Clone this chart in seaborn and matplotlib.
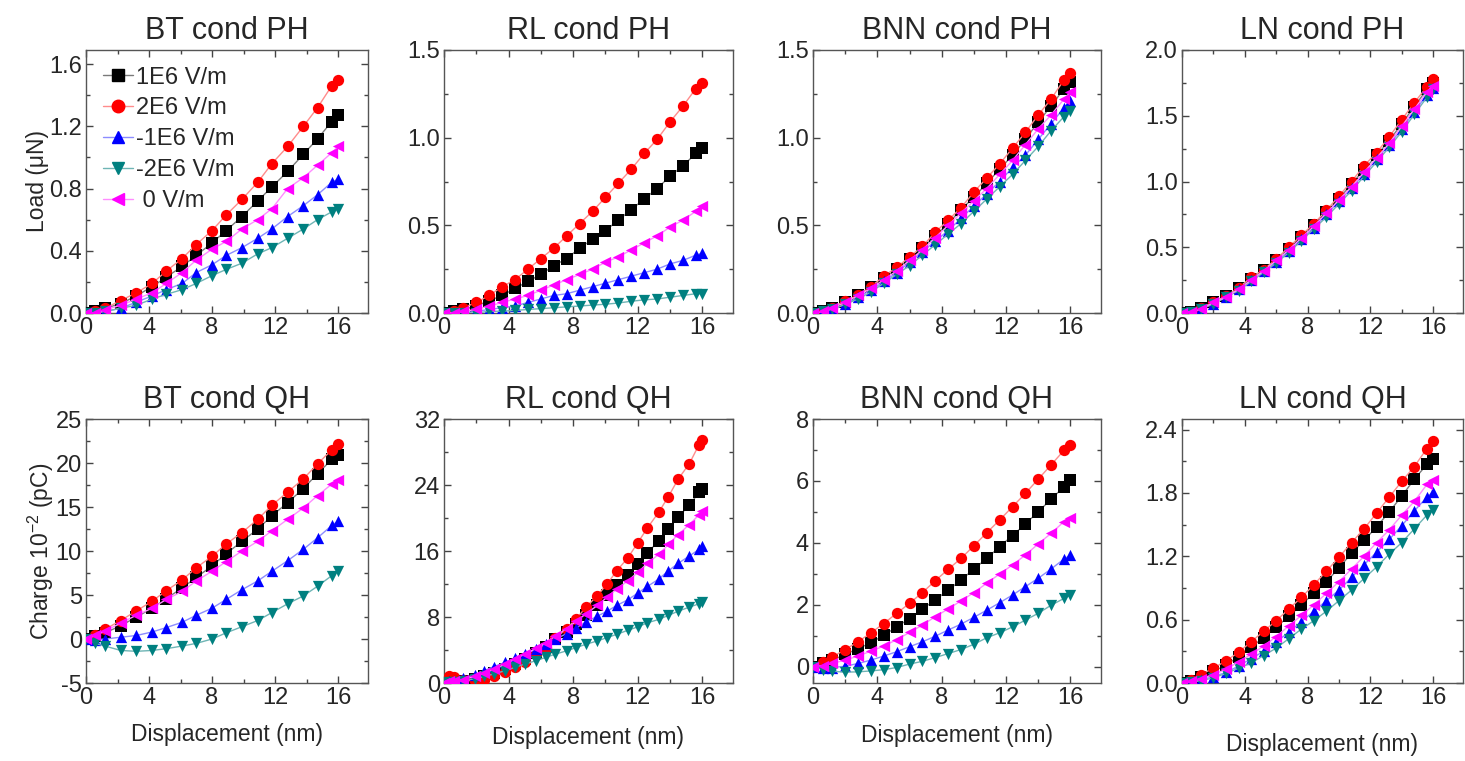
import numpy as np
import pandas as pd
import seaborn as sns
import matplotlib.pyplot as plt
from matplotlib.lines import Line2D
from matplotlib.ticker import MultipleLocator, FormatStrFormatter

# x grids (nm)
x_bt = [0, 0.6, 1.2, 2.2, 3.2, 4.2, 5.1, 6.1, 7.0, 8.0, 8.9, 9.9, 10.9, 11.8, 12.8, 13.8, 14.7, 15.6, 16.0]
x_std = [0, 0.6, 1.2, 2.0, 2.8, 3.6, 4.4, 5.2, 6.0, 6.8, 7.6, 8.4, 9.2, 10.0, 10.8, 11.6, 12.4, 13.2, 14.0,
         14.8, 15.6, 16.0]
x_rlq = [0, 0.3, 0.6, 1.2, 1.9, 2.5, 3.1, 3.8, 4.4, 5.0, 5.7, 6.3, 6.9, 7.6, 8.2, 8.8, 9.5, 10.1, 10.7, 11.4,
         12.0, 12.6, 13.3, 13.9, 14.5, 15.2, 15.8, 16.0]

series_labels = ["1E6 V/m", "2E6 V/m", "-1E6 V/m", "-2E6 V/m", " 0 V/m"]

# BT cond PH (load, uN)
bt_ph_p1 = [0, 0.01, 0.03, 0.06, 0.11, 0.17, 0.23, 0.30, 0.37, 0.45, 0.53, 0.62, 0.72, 0.81, 0.91, 1.02, 1.12, 1.23, 1.27]
bt_ph_p2 = [0, 0.01, 0.03, 0.08, 0.13, 0.19, 0.27, 0.35, 0.44, 0.53, 0.63, 0.73, 0.84, 0.96, 1.07, 1.20, 1.32, 1.46, 1.50]
bt_ph_m1 = [0, 0.00, 0.01, 0.03, 0.07, 0.11, 0.15, 0.19, 0.26, 0.31, 0.37, 0.42, 0.48, 0.54, 0.62, 0.69, 0.76, 0.84, 0.86]
bt_ph_m2 = [0, 0.00, 0.01, 0.03, 0.05, 0.09, 0.12, 0.15, 0.19, 0.24, 0.28, 0.32, 0.38, 0.42, 0.48, 0.54, 0.60, 0.65, 0.67]
bt_ph_z0 = [0, 0.00, 0.02, 0.05, 0.09, 0.13, 0.19, 0.26, 0.34, 0.41, 0.46, 0.54, 0.60, 0.67, 0.80, 0.87, 0.95, 1.03, 1.07]

# RL cond PH
rl_ph_p1 = [0, 0.01, 0.02, 0.04, 0.07, 0.10, 0.14, 0.18, 0.22, 0.27, 0.31, 0.37, 0.42, 0.47, 0.53, 0.59, 0.65, 0.71,
            0.78, 0.84, 0.91, 0.94]
rl_ph_p2 = [0, 0.01, 0.03, 0.06, 0.10, 0.15, 0.19, 0.25, 0.31, 0.37, 0.44, 0.51, 0.58, 0.66, 0.74, 0.82, 0.91, 0.99,
            1.09, 1.18, 1.28, 1.31]
rl_ph_m1 = [0, 0.00, 0.00, 0.01, 0.02, 0.03, 0.04, 0.06, 0.08, 0.10, 0.11, 0.13, 0.15, 0.17, 0.19, 0.21, 0.23, 0.25,
            0.28, 0.30, 0.33, 0.34]
rl_ph_m2 = [0, 0.00, 0.00, 0.00, 0.01, 0.01, 0.015, 0.02, 0.025, 0.03, 0.035, 0.04, 0.045, 0.05, 0.057, 0.067, 0.075,
            0.08, 0.09, 0.10, 0.11, 0.11]
rl_ph_z0 = [0, 0.00, 0.01, 0.02, 0.04, 0.06, 0.08, 0.10, 0.13, 0.16, 0.19, 0.22, 0.25, 0.29, 0.32, 0.36, 0.40, 0.44,
            0.49, 0.53, 0.58, 0.61]

# BNN cond PH
bnn_ph_p1 = [0, 0.01, 0.03, 0.06, 0.10, 0.15, 0.20, 0.25, 0.31, 0.37, 0.44, 0.51, 0.59, 0.66, 0.74, 0.82, 0.90, 0.99,
             1.09, 1.18, 1.28, 1.32]
bnn_ph_p2 = [0, 0.01, 0.03, 0.07, 0.10, 0.15, 0.21, 0.26, 0.32, 0.38, 0.46, 0.53, 0.60, 0.69, 0.77, 0.85, 0.94, 1.03,
             1.13, 1.22, 1.33, 1.37]
bnn_ph_m1 = [0, 0.01, 0.02, 0.05, 0.09, 0.13, 0.18, 0.23, 0.29, 0.35, 0.41, 0.47, 0.54, 0.61, 0.68, 0.75, 0.83, 0.90,
             0.99, 1.08, 1.17, 1.21]
bnn_ph_m2 = [0, 0.01, 0.02, 0.05, 0.08, 0.12, 0.17, 0.22, 0.27, 0.33, 0.39, 0.45, 0.51, 0.58, 0.65, 0.72, 0.79, 0.87,
             0.95, 1.04, 1.12, 1.15]
bnn_ph_z0 = [0, 0.01, 0.03, 0.06, 0.10, 0.14, 0.19, 0.24, 0.30, 0.36, 0.43, 0.50, 0.57, 0.64, 0.71, 0.79, 0.87, 0.96,
             1.05, 1.13, 1.22, 1.26]

# LN cond PH
ln_ph_p1 = [0, 0.01, 0.04, 0.08, 0.13, 0.19, 0.26, 0.33, 0.40, 0.49, 0.58, 0.67, 0.77, 0.87, 0.98, 1.09, 1.20, 1.31,
            1.44, 1.57, 1.70, 1.75]
ln_ph_p2 = [0, 0.01, 0.04, 0.08, 0.13, 0.19, 0.27, 0.33, 0.41, 0.50, 0.59, 0.68, 0.78, 0.89, 1.00, 1.12, 1.22, 1.34,
            1.47, 1.60, 1.72, 1.78]
ln_ph_m1 = [0, 0.01, 0.03, 0.07, 0.12, 0.18, 0.25, 0.32, 0.39, 0.47, 0.56, 0.65, 0.75, 0.85, 0.95, 1.06, 1.17, 1.28,
            1.40, 1.53, 1.66, 1.71]
ln_ph_m2 = [0, 0.01, 0.03, 0.07, 0.12, 0.17, 0.24, 0.31, 0.38, 0.46, 0.55, 0.64, 0.73, 0.83, 0.93, 1.04, 1.15, 1.26,
            1.38, 1.51, 1.64, 1.70]
ln_ph_z0 = [0, 0.01, 0.03, 0.08, 0.12, 0.18, 0.25, 0.32, 0.40, 0.48, 0.57, 0.66, 0.76, 0.86, 0.96, 1.07, 1.18, 1.29,
            1.42, 1.55, 1.68, 1.73]

# BT cond QH (charge, 1e-2 pC)
bt_qh_p1 = [0, 0.3, 0.7, 1.5, 2.5, 3.5, 4.6, 5.8, 7.0, 8.3, 9.7, 11.1, 12.5, 14.0, 15.5, 17.1, 18.8, 20.4, 20.9]
bt_qh_p2 = [0, 0.5, 1.1, 2.1, 3.2, 4.3, 5.5, 6.7, 8.1, 9.4, 10.8, 12.1, 13.6, 15.2, 16.7, 18.2, 19.9, 21.5, 22.2]
bt_qh_m1 = [0, -0.1, 0.0, 0.2, 0.4, 0.8, 1.3, 1.9, 2.7, 3.5, 4.5, 5.6, 6.6, 7.7, 8.9, 10.2, 11.5, 12.9, 13.4]
bt_qh_m2 = [0, -0.5, -0.8, -1.3, -1.4, -1.3, -1.1, -0.8, -0.5, 0.0, 0.7, 1.4, 2.1, 3.0, 4.0, 4.9, 6.0, 7.2, 7.7]
bt_qh_z0 = [0, 0.4, 0.9, 1.8, 2.7, 3.5, 4.5, 5.4, 6.6, 7.7, 8.8, 10.0, 11.1, 12.3, 13.6, 14.9, 16.3, 17.6, 18.1]

# RL cond QH
rl_qh_p1 = [0, 0.3, 0.3, 0.3, 0.5, 0.8, 1.2, 1.7, 2.3, 2.9, 3.6, 4.4, 5.3, 6.2, 7.2, 8.3, 9.5, 10.7, 11.9, 13.1,
            14.4, 15.8, 17.2, 18.7, 20.1, 21.6, 23.1, 23.5]
rl_qh_p2 = [0, 0.8, 0.7, 0.4, 0.2, 0.4, 0.8, 1.3, 1.9, 2.6, 3.5, 4.3, 5.4, 6.6, 7.8, 9.2, 10.6, 12.0, 13.6, 15.2,
            17.0, 18.8, 20.7, 22.6, 24.7, 26.6, 28.9, 29.5]
rl_qh_m1 = [0, 0.2, 0.3, 0.6, 1.0, 1.5, 2.0, 2.5, 3.0, 3.5, 4.1, 4.7, 5.3, 6.0, 6.7, 7.4, 8.1, 8.7, 9.4, 10.1,
            10.9, 11.7, 12.6, 13.6, 14.5, 15.4, 16.2, 16.6]
rl_qh_m2 = [0, 0.1, 0.1, 0.3, 0.5, 0.8, 1.1, 1.5, 1.9, 2.3, 2.7, 3.1, 3.5, 3.9, 4.3, 4.7, 5.1, 5.5, 5.9, 6.4,
            6.8, 7.3, 7.7, 8.2, 8.7, 9.2, 9.6, 9.8]
rl_qh_z0 = [0, 0.2, 0.2, 0.4, 0.8, 1.2, 1.7, 2.3, 2.9, 3.5, 4.2, 4.9, 5.7, 6.6, 7.5, 8.4, 9.4, 10.4, 11.4, 12.4,
            13.4, 14.5, 15.6, 16.8, 18.0, 19.2, 20.4, 20.9]

# BNN cond QH
bnn_qh_p1 = [0, 0.11, 0.22, 0.40, 0.59, 0.78, 1.02, 1.29, 1.56, 1.87, 2.16, 2.48, 2.80, 3.16, 3.50, 3.88, 4.24, 4.61,
             5.01, 5.41, 5.82, 6.02]
bnn_qh_p2 = [0, 0.16, 0.32, 0.56, 0.81, 1.10, 1.40, 1.73, 2.05, 2.40, 2.78, 3.15, 3.50, 3.91, 4.33, 4.74, 5.17, 5.60,
             6.06, 6.52, 6.99, 7.17]
bnn_qh_m1 = [0, -0.03, -0.02, 0.02, 0.11, 0.22, 0.35, 0.49, 0.65, 0.81, 0.99, 1.19, 1.38, 1.60, 1.83, 2.07, 2.32,
             2.59, 2.86, 3.16, 3.48, 3.61]
bnn_qh_m2 = [0, -0.09, -0.14, -0.17, -0.16, -0.13, -0.09, -0.02, 0.09, 0.18, 0.30, 0.43, 0.56, 0.73, 0.94, 1.10,
             1.29, 1.51, 1.73, 1.99, 2.21, 2.32]
bnn_qh_z0 = [0, 0.04, 0.11, 0.22, 0.35, 0.51, 0.67, 0.88, 1.11, 1.35, 1.62, 1.87, 2.13, 2.40, 2.70, 3.00, 3.29, 3.61,
             3.97, 4.31, 4.69, 4.82]

# LN cond QH
ln_qh_p1 = [0, 0.02, 0.06, 0.11, 0.17, 0.25, 0.34, 0.43, 0.53, 0.63, 0.74, 0.85, 0.96, 1.09, 1.23, 1.35, 1.48, 1.62,
            1.77, 1.93, 2.07, 2.12]
ln_qh_p2 = [0, 0.03, 0.08, 0.14, 0.21, 0.29, 0.39, 0.49, 0.59, 0.70, 0.81, 0.93, 1.06, 1.19, 1.33, 1.46, 1.61, 1.76,
            1.91, 2.05, 2.22, 2.29]
ln_qh_m1 = [0, 0.01, 0.03, 0.06, 0.10, 0.16, 0.23, 0.30, 0.39, 0.48, 0.58, 0.68, 0.78, 0.88, 1.00, 1.12, 1.24, 1.36,
            1.49, 1.63, 1.76, 1.81]
ln_qh_m2 = [0, 0.01, 0.02, 0.05, 0.09, 0.14, 0.19, 0.26, 0.33, 0.42, 0.51, 0.59, 0.68, 0.78, 0.88, 0.99, 1.10, 1.22,
            1.33, 1.46, 1.59, 1.64]
ln_qh_z0 = [0, 0.02, 0.04, 0.08, 0.13, 0.20, 0.27, 0.35, 0.44, 0.54, 0.64, 0.74, 0.85, 0.96, 1.08, 1.20, 1.33, 1.45,
            1.59, 1.72, 1.88, 1.92]

panels = [
    ("BT cond PH", x_bt, [bt_ph_p1, bt_ph_p2, bt_ph_m1, bt_ph_m2, bt_ph_z0], (0, 1.69), 0.4, 0.2, "%.1f"),
    ("RL cond PH", x_std, [rl_ph_p1, rl_ph_p2, rl_ph_m1, rl_ph_m2, rl_ph_z0], (0, 1.5), 0.5, 0.25, "%.1f"),
    ("BNN cond PH", x_std, [bnn_ph_p1, bnn_ph_p2, bnn_ph_m1, bnn_ph_m2, bnn_ph_z0], (0, 1.5), 0.5, 0.25, "%.1f"),
    ("LN cond PH", x_std, [ln_ph_p1, ln_ph_p2, ln_ph_m1, ln_ph_m2, ln_ph_z0], (0, 2.0), 0.5, 0.25, "%.1f"),
    ("BT cond QH", x_bt, [bt_qh_p1, bt_qh_p2, bt_qh_m1, bt_qh_m2, bt_qh_z0], (-5, 25), 5, 2.5, "%d"),
    ("RL cond QH", x_rlq, [rl_qh_p1, rl_qh_p2, rl_qh_m1, rl_qh_m2, rl_qh_z0], (0, 32), 8, 4, "%d"),
    ("BNN cond QH", x_std, [bnn_qh_p1, bnn_qh_p2, bnn_qh_m1, bnn_qh_m2, bnn_qh_z0], (-0.52, 8), 2, 1, "%d"),
    ("LN cond QH", x_std, [ln_qh_p1, ln_qh_p2, ln_qh_m1, ln_qh_m2, ln_qh_z0], (0, 2.5), 0.6, 0.3, "%.1f"),
]

colors = ["#000000", "#ff0000", "#0000ff", "#008080", "#ff00ff"]
line_colors = ["#7a7a7a", "#ff8c8c", "#8c8cff", "#6fb5b5", "#ff8cff"]
markers = ["s", "o", "^", "v", "<"]

sns.set_theme(style="ticks")
plt.rcParams['font.family'] = ['Liberation Sans', 'DejaVu Sans']
plt.rcParams['mathtext.fontset'] = 'custom'
plt.rcParams['mathtext.rm'] = 'Liberation Sans'

W, H = 1465, 761
fig = plt.figure(figsize=(W / 100, H / 100), dpi=100)
col_left = [86, 444, 813, 1182]
col_width = [282, 289, 288, 281]
row_top = [50, 419]
row_height = [263, 264]
xlabel_pad = [10, 12, 11, 17]

for k, (title, xs, ys, ylim, ymaj, ymin, fmt) in enumerate(panels):
    r, c = divmod(k, 4)
    ax = fig.add_axes([col_left[c] / W, 1 - (row_top[r] + row_height[r]) / H,
                       col_width[c] / W, row_height[r] / H])
    for i in range(5):
        df = pd.DataFrame({"x": xs, "y": ys[i]})
        sns.lineplot(data=df, x="x", y="y", ax=ax, color=line_colors[i], lw=1.0, sort=False,
                     estimator=None, zorder=2 + i)
        sns.scatterplot(data=df, x="x", y="y", ax=ax, color=colors[i], marker=markers[i], s=66,
                        linewidth=0, zorder=3 + i)
    ax.set_xlim(0, 17.9)
    ax.set_ylim(*ylim)
    ax.xaxis.set_major_locator(MultipleLocator(4))
    ax.xaxis.set_minor_locator(MultipleLocator(2))
    ax.yaxis.set_major_locator(MultipleLocator(ymaj))
    ax.yaxis.set_minor_locator(MultipleLocator(ymin))
    ax.yaxis.set_major_formatter(FormatStrFormatter(fmt))
    ax.tick_params(which="both", direction="in", top=True, right=True, labelsize=17,
                   color="#444444", width=1)
    ax.tick_params(which="major", length=5, pad=3)
    ax.tick_params(which="minor", length=3)
    for sp in ax.spines.values():
        sp.set_color("#555555")
        sp.set_linewidth(1.0)
    ax.set_title(title, fontsize=22, pad=8)
    ax.set_ylabel("")
    ax.set_xlabel("")
    if r == 1:
        ax.set_xlabel("Displacement (nm)", fontsize=16.5, labelpad=xlabel_pad[c])
    if c == 0:
        ax.set_ylabel("Load (μN)" if r == 0 else "Charge 10$^{-2}$ (pC)", fontsize=16.5, labelpad=0)
    if k == 0:
        handles = [Line2D([], [], color=line_colors[i], lw=1.0, marker=markers[i], markersize=9,
                          markerfacecolor=colors[i], markeredgecolor=colors[i]) for i in range(5)]
        ax.legend(handles, series_labels, loc="upper left", frameon=False, fontsize=17,
                  handlelength=1.3, handletextpad=0.1, labelspacing=0.38, borderaxespad=0.3,
                  bbox_to_anchor=(0.0, 1.0))

fig.savefig("out.png", dpi=100)
